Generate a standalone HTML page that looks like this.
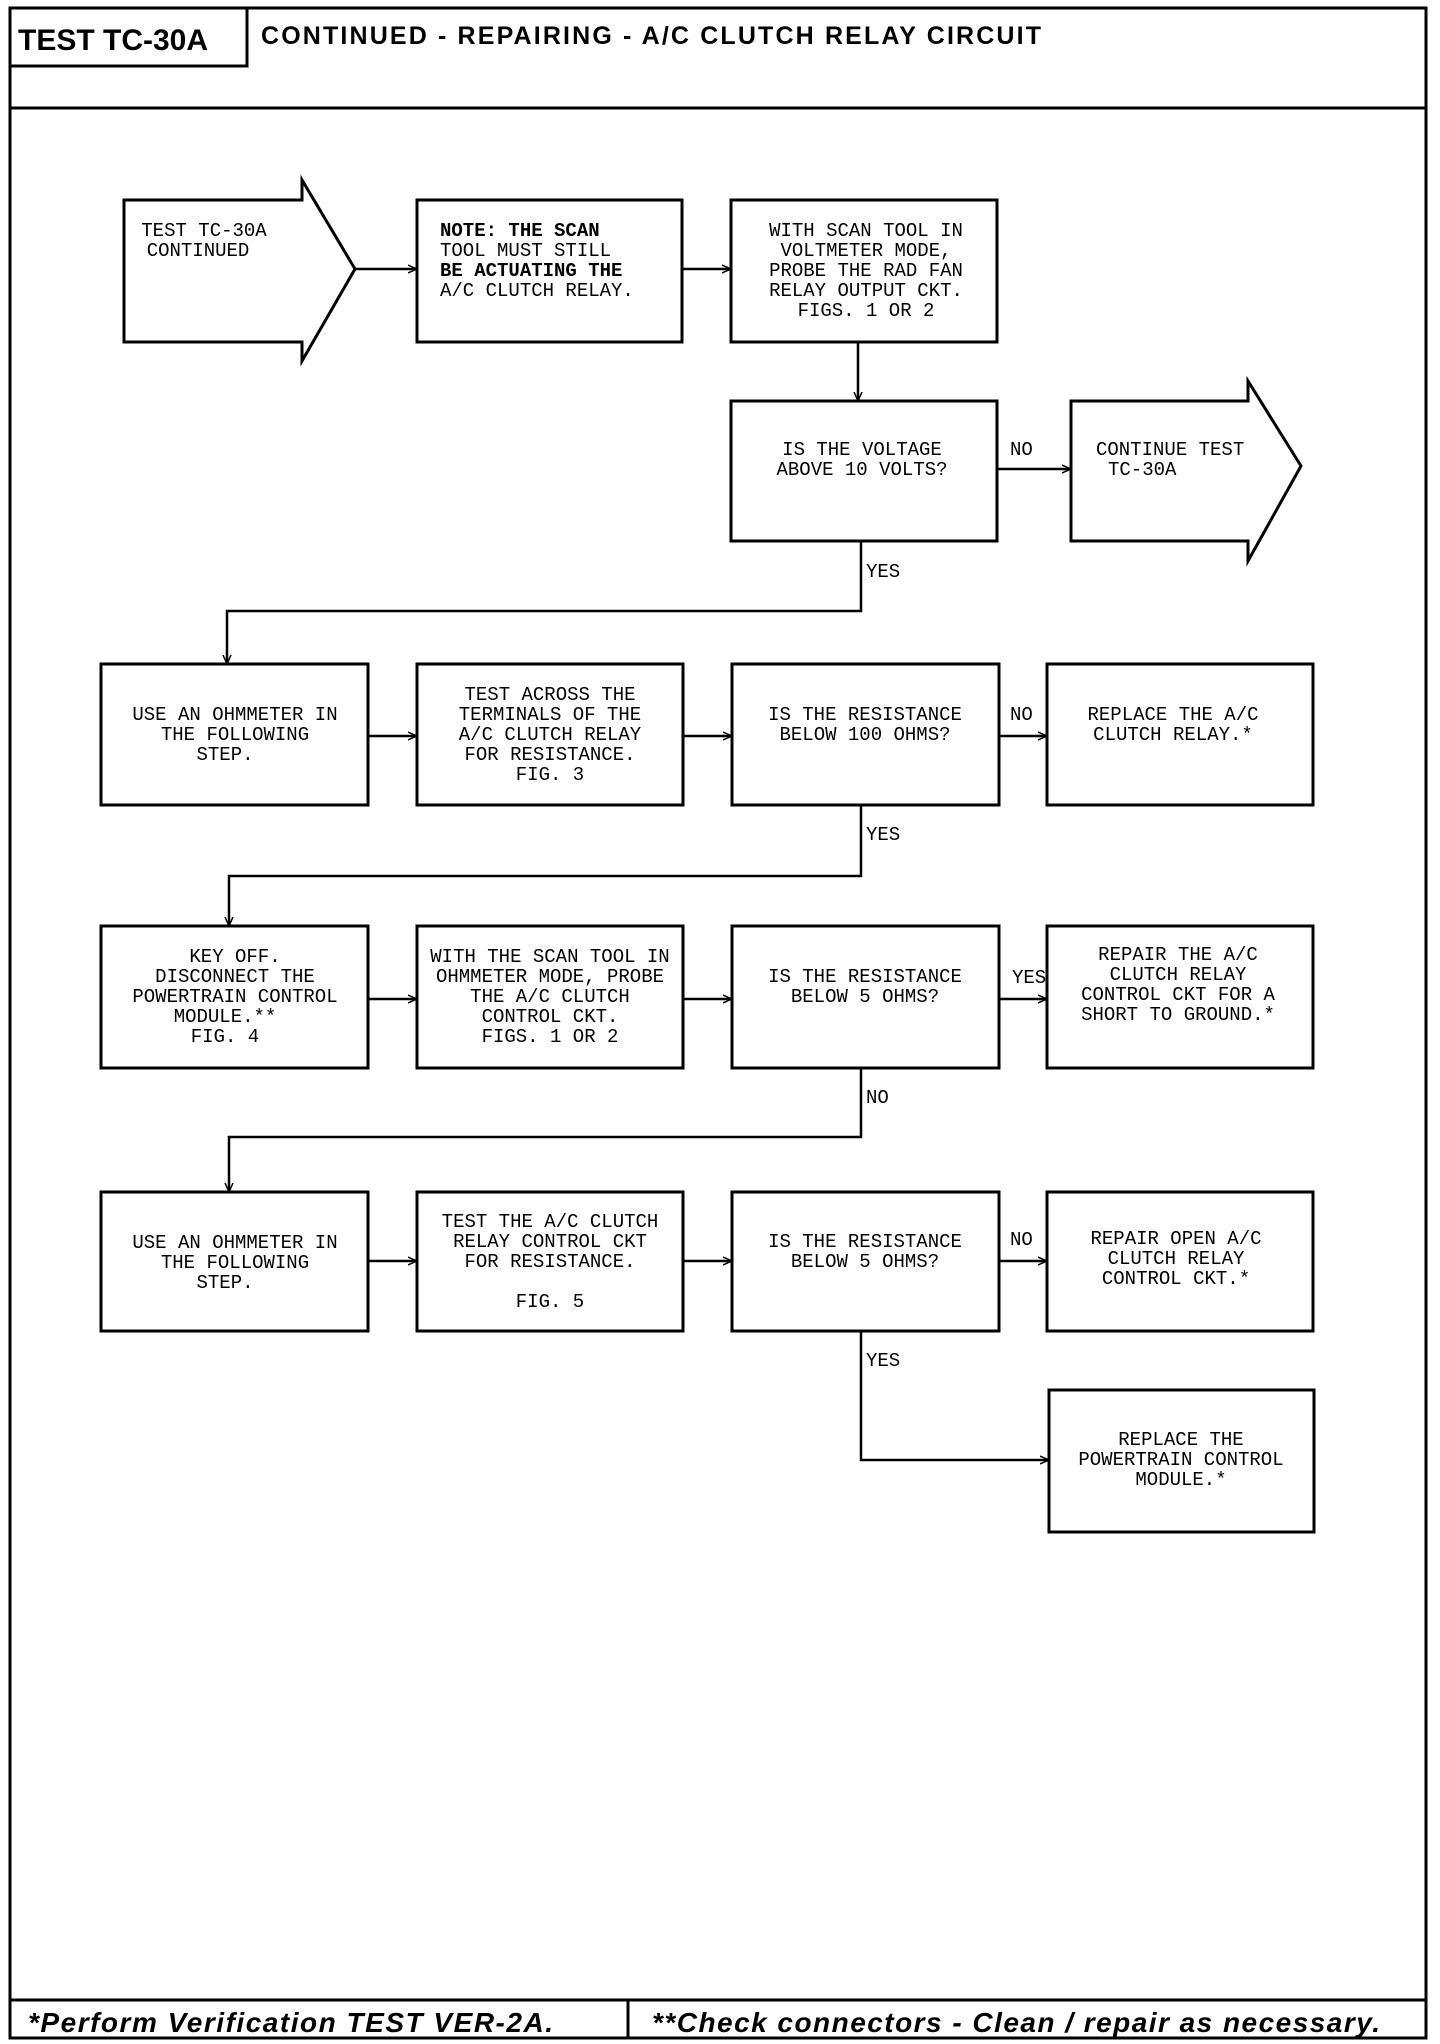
<!DOCTYPE html>
<html><head><meta charset="utf-8"><style>
html,body{margin:0;padding:0;background:#fff;}
svg{display:block;}
.t{font-family:"Liberation Mono",monospace;font-size:19px;fill:#000;}
.c{text-anchor:middle;}
.b{font-weight:bold;}
</style></head><body>
<svg width="1440" height="2044" viewBox="0 0 1440 2044" xmlns="http://www.w3.org/2000/svg">
<defs><marker id="a" markerWidth="10" markerHeight="10" refX="9" refY="5" orient="auto" markerUnits="userSpaceOnUse"><path d="M0,1 L9,5 L0,9" fill="none" stroke="#000" stroke-width="1.5"/></marker></defs>
<g fill="none" stroke="#000" stroke-width="3">
<rect x="10" y="8" width="1416" height="2030"/>
<line x1="10" y1="108" x2="1426" y2="108"/>
<rect x="10" y="8" width="237" height="58"/>
<line x1="10" y1="2000" x2="1426" y2="2000"/>
<line x1="628" y1="2000" x2="628" y2="2038"/>
<path d="M124,200 H302 V180 L355,269 L302,361 V342 H124 Z"/>
<rect x="417" y="200" width="265" height="142"/>
<rect x="731" y="200" width="266" height="142"/>
<rect x="731" y="401" width="266" height="140"/>
<path d="M1071,401 H1248 V381 L1301,466 L1248,561 V541 H1071 Z"/>
<rect x="101" y="664" width="267" height="141"/>
<rect x="417" y="664" width="266" height="141"/>
<rect x="732" y="664" width="267" height="141"/>
<rect x="1047" y="664" width="266" height="141"/>
<rect x="101" y="926" width="267" height="142"/>
<rect x="417" y="926" width="266" height="142"/>
<rect x="732" y="926" width="267" height="142"/>
<rect x="1047" y="926" width="266" height="142"/>
<rect x="101" y="1192" width="267" height="139"/>
<rect x="417" y="1192" width="266" height="139"/>
<rect x="732" y="1192" width="267" height="139"/>
<rect x="1047" y="1192" width="266" height="139"/>
<rect x="1049" y="1390" width="265" height="142"/>
</g>
<g fill="none" stroke="#000" stroke-width="2.5" marker-end="url(#a)">
<line x1="355" y1="269" x2="417" y2="269"/>
<line x1="682" y1="269" x2="731" y2="269"/>
<line x1="858" y1="342" x2="858" y2="401"/>
<line x1="997" y1="469" x2="1071" y2="469"/>
<polyline points="861,541 861,611 227,611 227,664"/>
<line x1="368" y1="736" x2="417" y2="736"/>
<line x1="683" y1="736" x2="732" y2="736"/>
<line x1="999" y1="736" x2="1047" y2="736"/>
<polyline points="861,805 861,876 229,876 229,926"/>
<line x1="368" y1="999" x2="417" y2="999"/>
<line x1="683" y1="999" x2="732" y2="999"/>
<line x1="999" y1="999" x2="1047" y2="999"/>
<polyline points="861,1068 861,1137 229,1137 229,1192"/>
<line x1="368" y1="1261" x2="417" y2="1261"/>
<line x1="683" y1="1261" x2="732" y2="1261"/>
<line x1="999" y1="1261" x2="1047" y2="1261"/>
<polyline points="861,1331 861,1460 1049,1460"/>
</g>
<text x="18" y="50" font-family="Liberation Sans,sans-serif" font-weight="bold" font-size="30">TEST TC-30A</text>
<text x="261" y="44" font-family="Liberation Sans,sans-serif" font-weight="bold" font-size="25" textLength="780">CONTINUED -  REPAIRING - A/C CLUTCH RELAY CIRCUIT</text>
<text x="28" y="2032" font-family="Liberation Sans,sans-serif" font-weight="bold" font-style="italic" font-size="28" textLength="525">*Perform Verification TEST VER-2A.</text>
<text x="652" y="2032" font-family="Liberation Sans,sans-serif" font-weight="bold" font-style="italic" font-size="28" textLength="728">**Check connectors - Clean / repair as necessary.</text>
<g class="t">
<text class="c" x="204" y="236">TEST TC-30A</text><text class="c" x="198" y="256">CONTINUED</text>
<text x="440" y="236" class="b">NOTE: THE SCAN</text><text x="440" y="256">TOOL MUST STILL</text><text x="440" y="276" class="b">BE ACTUATING THE</text><text x="440" y="296">A/C CLUTCH RELAY.</text>
<text class="c" x="866" y="236">WITH SCAN TOOL IN</text><text class="c" x="866" y="256">VOLTMETER MODE,</text><text class="c" x="866" y="276">PROBE THE RAD FAN</text><text class="c" x="866" y="296">RELAY OUTPUT CKT.</text><text class="c" x="866" y="316">FIGS. 1 OR 2</text>
<text class="c" x="862" y="455">IS THE VOLTAGE</text><text class="c" x="862" y="475">ABOVE 10 VOLTS?</text>
<text x="1096" y="455">CONTINUE TEST</text><text x="1108" y="475">TC-30A</text>
<text x="1010" y="455">NO</text><text x="866" y="577">YES</text>
<text class="c" x="235" y="720">USE AN OHMMETER IN</text><text class="c" x="235" y="740">THE FOLLOWING</text><text class="c" x="225" y="760">STEP.</text>
<text class="c" x="550" y="700">TEST ACROSS THE</text><text class="c" x="550" y="720">TERMINALS OF THE</text><text class="c" x="550" y="740">A/C CLUTCH RELAY</text><text class="c" x="550" y="760">FOR RESISTANCE.</text><text class="c" x="550" y="780">FIG. 3</text>
<text class="c" x="865" y="720">IS THE RESISTANCE</text><text class="c" x="865" y="740">BELOW 100 OHMS?</text>
<text class="c" x="1173" y="720">REPLACE THE A/C</text><text class="c" x="1173" y="740">CLUTCH RELAY.*</text>
<text x="1010" y="720">NO</text><text x="866" y="840">YES</text>
<text class="c" x="235" y="962">KEY OFF.</text><text class="c" x="235" y="982">DISCONNECT THE</text><text class="c" x="235" y="1002">POWERTRAIN CONTROL</text><text class="c" x="225" y="1022">MODULE.**</text><text class="c" x="225" y="1042">FIG. 4</text>
<text class="c" x="550" y="962">WITH THE SCAN TOOL IN</text><text class="c" x="550" y="982">OHMMETER MODE, PROBE</text><text class="c" x="550" y="1002">THE A/C CLUTCH</text><text class="c" x="550" y="1022">CONTROL CKT.</text><text class="c" x="550" y="1042">FIGS. 1 OR 2</text>
<text class="c" x="865" y="982">IS THE RESISTANCE</text><text class="c" x="865" y="1002">BELOW 5 OHMS?</text>
<text class="c" x="1178" y="960">REPAIR THE A/C</text><text class="c" x="1178" y="980">CLUTCH RELAY</text><text class="c" x="1178" y="1000">CONTROL CKT FOR A</text><text class="c" x="1178" y="1020">SHORT TO GROUND.*</text>
<text x="1012" y="983">YES</text><text x="866" y="1103">NO</text>
<text class="c" x="235" y="1248">USE AN OHMMETER IN</text><text class="c" x="235" y="1268">THE FOLLOWING</text><text class="c" x="225" y="1288">STEP.</text>
<text class="c" x="550" y="1227">TEST THE A/C CLUTCH</text><text class="c" x="550" y="1247">RELAY CONTROL CKT</text><text class="c" x="550" y="1267">FOR RESISTANCE.</text><text class="c" x="550" y="1307">FIG. 5</text>
<text class="c" x="865" y="1247">IS THE RESISTANCE</text><text class="c" x="865" y="1267">BELOW 5 OHMS?</text>
<text class="c" x="1176" y="1244">REPAIR OPEN A/C</text><text class="c" x="1176" y="1264">CLUTCH RELAY</text><text class="c" x="1176" y="1284">CONTROL CKT.*</text>
<text x="1010" y="1245">NO</text><text x="866" y="1366">YES</text>
<text class="c" x="1181" y="1445">REPLACE THE</text><text class="c" x="1181" y="1465">POWERTRAIN CONTROL</text><text class="c" x="1181" y="1485">MODULE.*</text>
</g>
</svg>
</body></html>
